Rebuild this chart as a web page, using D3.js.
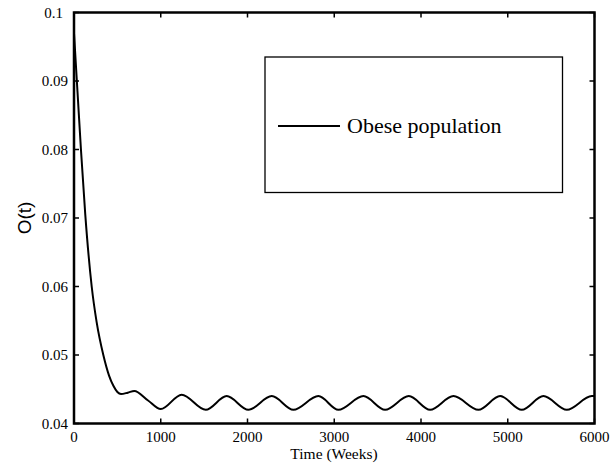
<!DOCTYPE html>
<html>
<head>
<meta charset="utf-8">
<script src="https://cdn.jsdelivr.net/npm/d3@7"></script>
<style>
  body { margin: 0; background: #fff; }
  svg { display: block; }
  .tick-label { font-family: "Liberation Serif", "Times New Roman", serif; font-size: 15px; fill: #000; }
</style>
</head>
<body>
<script>
(function(){

    /////////// DATA //////////
    // time in weeks
    const weeks = [0, 40, 80, 130, 204, 261, 338, 404, 454, 500, 542, 620, 695, 850, 1000,
                   1241, 1519, 1760, 2010, 2280, 2529, 2817, 3048, 3336, 3586, 3860, 4105,
                   4374, 4662, 4912, 5162, 5411, 5681, 5969, 6000];
    // O(t), obese population
    const obese = [0.0970, 0.0885, 0.0800, 0.0705, 0.0600, 0.0548, 0.0500, 0.0470, 0.0455, 0.0446, 0.0443, 0.0445, 0.04475, 0.0434, 0.0421,
                   0.0442, 0.0420, 0.0440, 0.0420, 0.0440, 0.0420, 0.0440, 0.0420, 0.0440, 0.0420, 0.0440, 0.0420,
                   0.0440, 0.0420, 0.0440, 0.0420, 0.0440, 0.0420, 0.0440, 0.0440];
    const xTicks = [0, 1000, 2000, 3000, 4000, 5000, 6000];
    const yTicks = [0.04, 0.05, 0.06, 0.07, 0.08, 0.09, 0.1];
    const legendLabel = "Obese population";

    /////////// LAYOUT //////////
    const width = 613, height = 468;
    const plot = {left: 74, right: 594.5, top: 12.5, bottom: 423.5};
    const tickLen = 5;

    const svg = d3.select("body").append("svg")
        .attr("width", width)
        .attr("height", height);

    const x = d3.scaleLinear().domain([0, 6000]).range([plot.left, plot.right]);
    const y = d3.scaleLinear().domain([0.04, 0.1]).range([plot.bottom, plot.top]);

    // curve
    const points = weeks.map((t, i) => [t, obese[i]]);
    const line = d3.line()
        .x(d => x(d[0]))
        .y(d => y(d[1]))
        .curve(d3.curveMonotoneX);

    svg.append("defs").append("clipPath").attr("id", "clip")
        .append("rect")
        .attr("x", plot.left).attr("y", plot.top)
        .attr("width", plot.right - plot.left).attr("height", plot.bottom - plot.top);

    svg.append("path")
        .datum(points)
        .attr("clip-path", "url(#clip)")
        .attr("d", line)
        .attr("fill", "none")
        .attr("stroke", "#000")
        .attr("stroke-width", 2);

    // ticks, inward on all four sides
    const ticks = svg.append("g").attr("stroke", "#000").attr("stroke-width", 1.5);
    xTicks.forEach(t => {
        ticks.append("line").attr("x1", x(t)).attr("x2", x(t)).attr("y1", plot.bottom).attr("y2", plot.bottom - tickLen);
        ticks.append("line").attr("x1", x(t)).attr("x2", x(t)).attr("y1", plot.top).attr("y2", plot.top + tickLen);
    });
    yTicks.forEach(v => {
        ticks.append("line").attr("x1", plot.left).attr("x2", plot.left + tickLen).attr("y1", y(v)).attr("y2", y(v));
        ticks.append("line").attr("x1", plot.right).attr("x2", plot.right - tickLen).attr("y1", y(v)).attr("y2", y(v));
    });

    // box
    svg.append("rect")
        .attr("x", plot.left).attr("y", plot.top)
        .attr("width", plot.right - plot.left).attr("height", plot.bottom - plot.top)
        .attr("fill", "none")
        .attr("stroke", "#000")
        .attr("stroke-width", 2.5);

    // tick labels
    svg.selectAll(".xlab").data(xTicks).enter().append("text")
        .attr("class", "tick-label")
        .attr("x", d => x(d))
        .attr("y", 442)
        .attr("text-anchor", "middle")
        .text(d => d);

    svg.selectAll(".ylab").data(yTicks).enter().append("text")
        .attr("class", "tick-label")
        .attr("x", d => d === 0.1 ? 63 : 68)
        .attr("y", d => y(d) + 5)
        .attr("text-anchor", "end")
        .text(d => d3.format(".2~f")(d));

    // axis titles
    svg.append("text")
        .attr("x", 334).attr("y", 459)
        .attr("text-anchor", "middle")
        .style("font-family", "'Liberation Serif', 'Times New Roman', serif")
        .style("font-size", "15.5px")
        .text("Time (Weeks)");

    svg.append("text")
        .attr("transform", "translate(30.5,218) rotate(-90)")
        .attr("text-anchor", "middle")
        .style("font-family", "'Liberation Sans', Arial, sans-serif")
        .style("font-size", "19px")
        .text("O(t)");

    // legend
    const legend = svg.append("g");
    legend.append("rect")
        .attr("x", 265).attr("y", 57)
        .attr("width", 297.5).attr("height", 135.5)
        .attr("fill", "#fff")
        .attr("stroke", "#000")
        .attr("stroke-width", 1.3);
    legend.append("line")
        .attr("x1", 278).attr("x2", 340).attr("y1", 126).attr("y2", 126)
        .attr("stroke", "#000").attr("stroke-width", 2);
    legend.append("text")
        .attr("x", 347).attr("y", 133)
        .style("font-family", "'Liberation Serif', 'Times New Roman', serif")
        .style("font-size", "22px")
        .text(legendLabel);

})();
</script>
</body>
</html>
